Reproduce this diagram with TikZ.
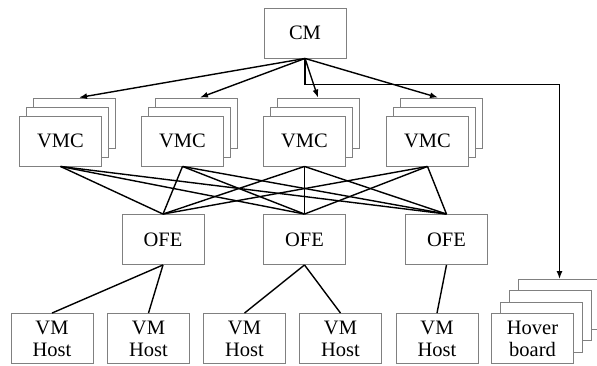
\documentclass[tikz,border=0pt]{standalone}
\usepackage{fontspec}
\setmainfont{Liberation Serif}
\usetikzlibrary{arrows.meta}
\begin{document}
\begin{tikzpicture}[x=1pt,y=-1pt,
  box/.style={draw=black!50,line width=0.9pt,fill=white,minimum width=82pt,minimum height=50pt,inner sep=0pt,font=\fontsize{20.5}{22}\selectfont,align=center},
  conn/.style={draw=black,line width=1.4pt},
  arr/.style={conn,-{Latex[length=8pt,width=6pt]}}]
\useasboundingbox (0,0) rectangle (597,365);
% CM
\node[box] (cm) at (305,33) {CM};
% VMC stacks
\foreach \i/\x in {1/60.5,2/182.5,3/304.5,4/427.5}{
  \node[box] (vb\i) at (\x+14,123) {};
  \node[box] (vm\i) at (\x+7,132) {};
  \node[box] (v\i) at (\x,141) {VMC};
}
% OFE
\foreach \i/\x in {1/163,2/304.5,3/446.5}{
  \node[box] (o\i) at (\x,239.5) {OFE};
}
% Hosts
\foreach \i/\x in {1/52,2/148.5,3/244.5,4/340.5,5/437}{
  \node[box] (h\i) at (\x,338.5) {VM\\Host};
}
% Hover board stack
\node[box] (hb4) at (532.5+27,338.5-34) {};
\node[box] (hb3) at (532.5+18,338.5-22.6) {};
\node[box] (hb2) at (532.5+9,338.5-11.3) {};
\node[box] (hb1) at (532.5,338.5) {Hover\\board};
% CM arrows
\draw[arr] (cm.south) -- ([xshift=4.5pt]vb1.north);
\draw[arr] (cm.south) -- ([xshift=3.5pt]vb2.north);
\draw[arr] (cm.south) -- ([xshift=-0.5pt]vb3.north);
\draw[arr] (cm.south) -- ([xshift=-3.5pt]vb4.north);
\draw[arr] (cm.south) -- ++(0,26) -| (hb4.north);
% VMC - OFE
\foreach \i in {1,2,3,4}{
  \foreach \j in {1,2,3}{
    \draw[conn] (v\i.south) -- (o\j.north);
  }
}
% OFE - hosts
\draw[conn] (o1.south) -- (h1.north);
\draw[conn] (o1.south) -- (h2.north);
\draw[conn] (o2.south) -- (h3.north);
\draw[conn] (o2.south) -- (h4.north);
\draw[conn] (o3.south) -- (h5.north);
\end{tikzpicture}
\end{document}
